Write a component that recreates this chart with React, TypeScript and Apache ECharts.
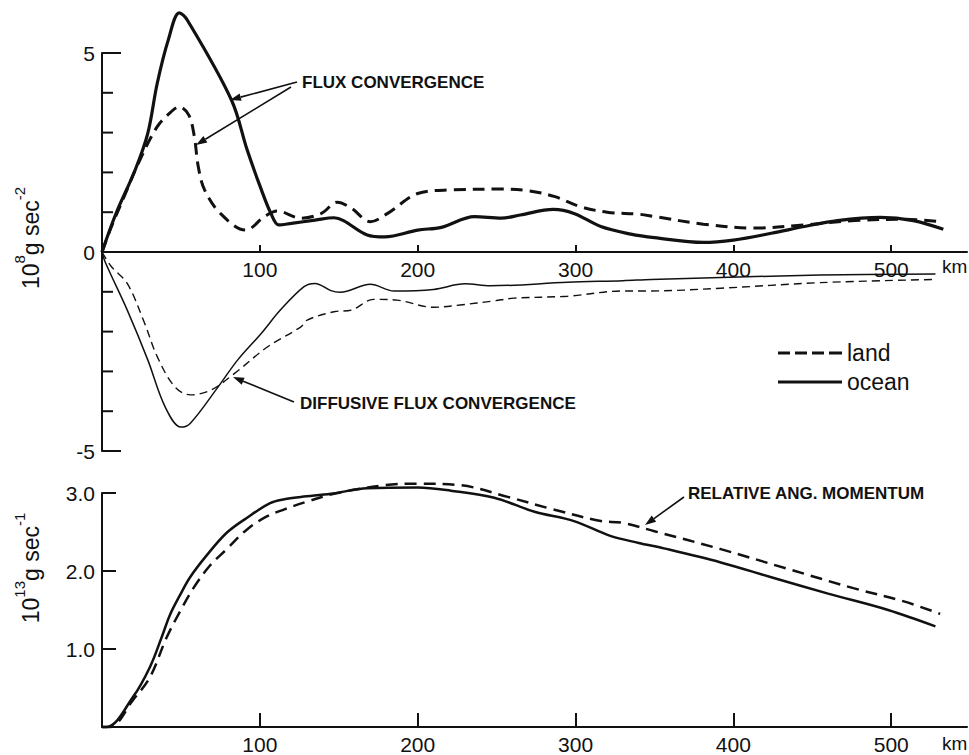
import React, { useEffect, useRef } from "react";
import * as echarts from "echarts";

// ---- Data (km, value) ----
const fluxOceanKm = [0, 9, 21, 29, 35, 42, 49, 54, 82, 92, 101, 107, 112, 120, 135, 147, 153, 168, 179, 200, 215, 236, 253, 265, 286, 299, 316, 335, 350, 381, 400, 424, 445, 466, 493, 514, 533];
const fluxOcean = [0, 0.98, 2.06, 2.98, 4.24, 5.33, 6.01, 5.83, 3.82, 2.56, 1.56, 0.97, 0.68, 0.72, 0.8, 0.86, 0.79, 0.43, 0.38, 0.55, 0.62, 0.89, 0.85, 0.93, 1.07, 0.97, 0.64, 0.45, 0.36, 0.24, 0.3, 0.47, 0.64, 0.79, 0.87, 0.79, 0.57];

const fluxLandKm = [0, 6, 14, 23, 35, 44, 49, 55, 58.5, 61, 65, 75, 91, 103, 111, 126, 139, 149, 158, 170, 181, 200, 221, 253, 270, 287, 303, 320, 340, 350, 381, 413, 445, 477, 508, 531];
const fluxLand = [0, 0.64, 1.39, 2.23, 3.15, 3.53, 3.65, 3.44, 2.9, 2.14, 1.56, 0.97, 0.55, 0.89, 1.03, 0.85, 0.97, 1.25, 1.1, 0.76, 0.97, 1.47, 1.56, 1.58, 1.54, 1.39, 1.14, 1.0, 0.95, 0.89, 0.7, 0.6, 0.68, 0.79, 0.82, 0.76];

const diffOceanKm = [0, 2, 16, 29, 40, 50, 56, 73, 86, 101, 113, 128, 135, 145, 151, 170, 185, 210, 230, 246, 295, 330, 348, 392, 455, 528];
const diffOcean = [0, -0.25, -1.46, -2.71, -3.89, -4.4, -4.3, -3.42, -2.71, -2.04, -1.46, -0.87, -0.79, -0.97, -1.01, -0.81, -0.98, -0.94, -0.8, -0.85, -0.76, -0.72, -0.69, -0.64, -0.58, -0.55];

const diffLandKm = [0, 6, 16, 27, 35, 46, 56, 69, 84, 105, 126, 130, 147, 158, 172, 187, 210, 227, 248, 261, 295, 330, 346, 392, 455, 527];
const diffLand = [0, -0.37, -0.79, -1.79, -2.63, -3.38, -3.59, -3.47, -3.05, -2.38, -1.88, -1.71, -1.5, -1.46, -1.19, -1.21, -1.39, -1.33, -1.23, -1.16, -1.11, -0.98, -0.98, -0.91, -0.77, -0.69];

const angOceanKm = [0, 3, 19.8, 30.4, 37.8, 43.1, 49.4, 55.8, 66.3, 79, 91.7, 106.5, 115.5, 126, 145, 168, 200, 221, 248.5, 274, 299, 322, 340, 356, 392, 424, 460, 498, 528];
const angOcean = [0, 0, 0.39, 0.77, 1.15, 1.44, 1.69, 1.92, 2.2, 2.49, 2.68, 2.87, 2.92, 2.95, 2.99, 3.06, 3.07, 3.03, 2.94, 2.76, 2.64, 2.45, 2.36, 2.29, 2.11, 1.92, 1.71, 1.5, 1.29];

const angLandKm = [0, 5, 19.8, 30.4, 41, 49.4, 57.9, 68.4, 79, 91.7, 104.4, 115.5, 130, 147, 179, 200, 227, 257, 284, 316, 329, 350, 392, 434, 476, 508, 531];
const angLand = [0, 0, 0.35, 0.64, 1.15, 1.48, 1.78, 2.07, 2.28, 2.53, 2.7, 2.79, 2.89, 2.99, 3.1, 3.12, 3.1, 2.95, 2.8, 2.64, 2.62, 2.51, 2.28, 2.03, 1.78, 1.61, 1.45];

const xTickValues = [100, 200, 300, 400, 500];
const upperYLabelValues = [0, 5];
const lowerYLabelValues = [-5];
const upperMinorTicks = [1, 2, 3, 4];
const lowerMinorTicks = [-4, -3, -2, -1];
const bottomYLabelValues = [1, 2, 3];
const legendNames = ["land", "ocean"];

const FONT = "'Liberation Sans', Arial, sans-serif";
const INK = "#111";

function zip(xs: number[], ys: number[]) {
  return xs.map((x, i) => [x, ys[i]]);
}

function arrow(x1: number, y1: number, x2: number, y2: number) {
  const ang = Math.atan2(y2 - y1, x2 - x1);
  const L = 11;
  const W = 3.8;
  const bx = x2 - L * Math.cos(ang);
  const by = y2 - L * Math.sin(ang);
  const px = -Math.sin(ang) * W;
  const py = Math.cos(ang) * W;
  return [
    { type: "line", silent: true, shape: { x1, y1, x2: bx, y2: by }, style: { stroke: INK, lineWidth: 1.6 } },
    {
      type: "polygon",
      silent: true,
      shape: { points: [[x2, y2], [bx + px, by + py], [bx - px, by - py]] },
      style: { fill: INK },
    },
  ];
}

function annot(text: string, x: number, y: number) {
  return {
    type: "text",
    silent: true,
    x,
    y,
    style: { text, fill: INK, fontSize: 17, fontWeight: "bold", fontFamily: FONT, align: "left", verticalAlign: "middle" },
  };
}

const supRich = {
  b: { fontSize: 23, lineHeight: 30, verticalAlign: "bottom", fontFamily: FONT, fill: INK, color: INK },
  s: { fontSize: 15, lineHeight: 15, verticalAlign: "top", fontFamily: FONT, fill: INK, color: INK },
};

function yTitle(text: string, x: number, y: number) {
  return {
    type: "text",
    silent: true,
    x,
    y,
    rotation: Math.PI / 2,
    style: { text, rich: supRich, fill: INK, fontSize: 23, fontFamily: FONT, align: "center", verticalAlign: "middle" },
  };
}

export default function App() {
  const ref = useRef<HTMLDivElement>(null);

  useEffect(() => {
    if (!ref.current) return;
    const chart = echarts.init(ref.current, null, { renderer: "svg" });

    const xAxisBase = (gridIndex: number, tickLen: number, show = true) => ({
      type: "value",
      gridIndex,
      show,
      min: 0,
      max: 548,
      splitLine: { show: false },
      axisLine: { show: true, onZero: false, lineStyle: { color: INK, width: 2 } },
      axisTick: { show: true, inside: true, length: tickLen, customValues: xTickValues, lineStyle: { color: INK, width: 2 } },
      axisLabel: { customValues: xTickValues, color: INK, fontSize: 21, fontFamily: FONT, margin: 7 },
    });

    const yAxisMain = (gridIndex: number, min: number, max: number, interval: number, tickLen: number, labels: number[], fmt?: (v: number) => string) => ({
      type: "value",
      gridIndex,
      position: "left",
      min,
      max,
      interval,
      splitLine: { show: false },
      axisLine: { show: true, onZero: false, lineStyle: { color: INK, width: 2 } },
      axisTick: { show: true, inside: true, length: tickLen, customValues: labels, lineStyle: { color: INK, width: 2 } },
      axisLabel: { customValues: labels, color: INK, fontSize: 21, fontFamily: FONT, margin: 7, formatter: fmt },
    });

    const lineSeries = (name: string, data: number[][], axis: number, width: number, dash: any) => ({
      type: "line",
      name,
      xAxisIndex: axis,
      yAxisIndex: axis,
      data,
      symbol: "none",
      showSymbol: false,
      smooth: 0.35,
      clip: false,
      silent: true,
      lineStyle: { color: INK, width, type: dash },
      itemStyle: { color: INK },
    });

    const baseGraphic: any[] = [
      yTitle("{b|10}{s|8}{b|g sec}{s|-2}", 27, 238),
      yTitle("{b|10}{s|13}{b|g sec}{s|-1}", 27, 568),
      annot("FLUX CONVERGENCE", 302, 82),
      ...arrow(297, 82, 230, 100),
      ...arrow(291, 87, 196, 145),
      annot("DIFFUSIVE FLUX CONVERGENCE", 300, 403),
      ...arrow(294, 402, 233, 377),
      annot("RELATIVE ANG. MOMENTUM", 688, 493),
      ...arrow(684, 497, 645, 525),
      {
        type: "text",
        silent: true,
        x: 942,
        y: 266,
        style: { text: "km", fill: INK, fontSize: 19, fontFamily: FONT, align: "left", verticalAlign: "middle" },
      },
      {
        type: "text",
        silent: true,
        x: 942,
        y: 743,
        style: { text: "km", fill: INK, fontSize: 19, fontFamily: FONT, align: "left", verticalAlign: "middle" },
      },
    ];

    const option: any = {
      animation: false,
      backgroundColor: "#fff",
      grid: [
        { left: 102, top: 53, width: 865, height: 199 },
        { left: 102, top: 252, width: 865, height: 199 },
        { left: 102, top: 493, width: 865, height: 238 },
      ],
      xAxis: [xAxisBase(0, 7), xAxisBase(1, 7, false), xAxisBase(2, 14)],
      yAxis: [
        yAxisMain(0, 0, 5, 5, 19, upperYLabelValues),
        yAxisMain(1, -5, 0, 5, 19, lowerYLabelValues),
        yAxisMain(2, 0, 3, 1, 14, bottomYLabelValues, (v: number) => v.toFixed(1)),
      ],
      legend: {
        orient: "vertical",
        left: 773,
        top: 335,
        itemWidth: 64,
        itemHeight: 3,
        itemGap: 3,
        selectedMode: false,
        textStyle: { fontSize: 23, lineHeight: 26, color: INK, fontFamily: FONT },
        data: [
          { name: legendNames[0], icon: "path://M0 0h12v3H0z M17 0h12v3H17z M34 0h12v3H34z M51 0h13v3H51z" },
          { name: legendNames[1], icon: "path://M0 0h64v3H0z" },
        ],
      },
      series: [
        lineSeries("land", zip(fluxLandKm, fluxLand), 0, 3, [12, 7]),
        lineSeries("ocean", zip(fluxOceanKm, fluxOcean), 0, 3.2, "solid"),
        lineSeries("land", zip(diffLandKm, diffLand), 1, 1.4, [8, 5]),
        lineSeries("ocean", zip(diffOceanKm, diffOcean), 1, 1.5, "solid"),
        lineSeries("land", zip(angLandKm, angLand), 2, 2.5, [12, 7]),
        lineSeries("ocean", zip(angOceanKm, angOcean), 2, 2.5, "solid"),
      ],
      graphic: baseGraphic,
    };

    chart.setOption(option);

    // short unlabelled y ticks every 1 unit, positioned through the axes' scales
    const tickEls: any[] = [];
    const addTicks = (values: number[], gridIndex: number) => {
      values.forEach((v) => {
        const p = chart.convertToPixel({ gridIndex } as any, [0, v]) as number[];
        if (!p || !isFinite(p[0]) || !isFinite(p[1])) return;
        tickEls.push({
          type: "line",
          silent: true,
          z: 10,
          shape: { x1: p[0], y1: p[1], x2: p[0] + 11, y2: p[1] },
          style: { stroke: INK, lineWidth: 2 },
        });
      });
    };
    addTicks(upperMinorTicks, 0);
    addTicks(lowerMinorTicks, 1);
    chart.setOption({ graphic: [...baseGraphic, ...tickEls] });

    return () => chart.dispose();
  }, []);

  return <div ref={ref} style={{ position: "fixed", left: 0, top: 0, width: 969, height: 755 }} />;
}
